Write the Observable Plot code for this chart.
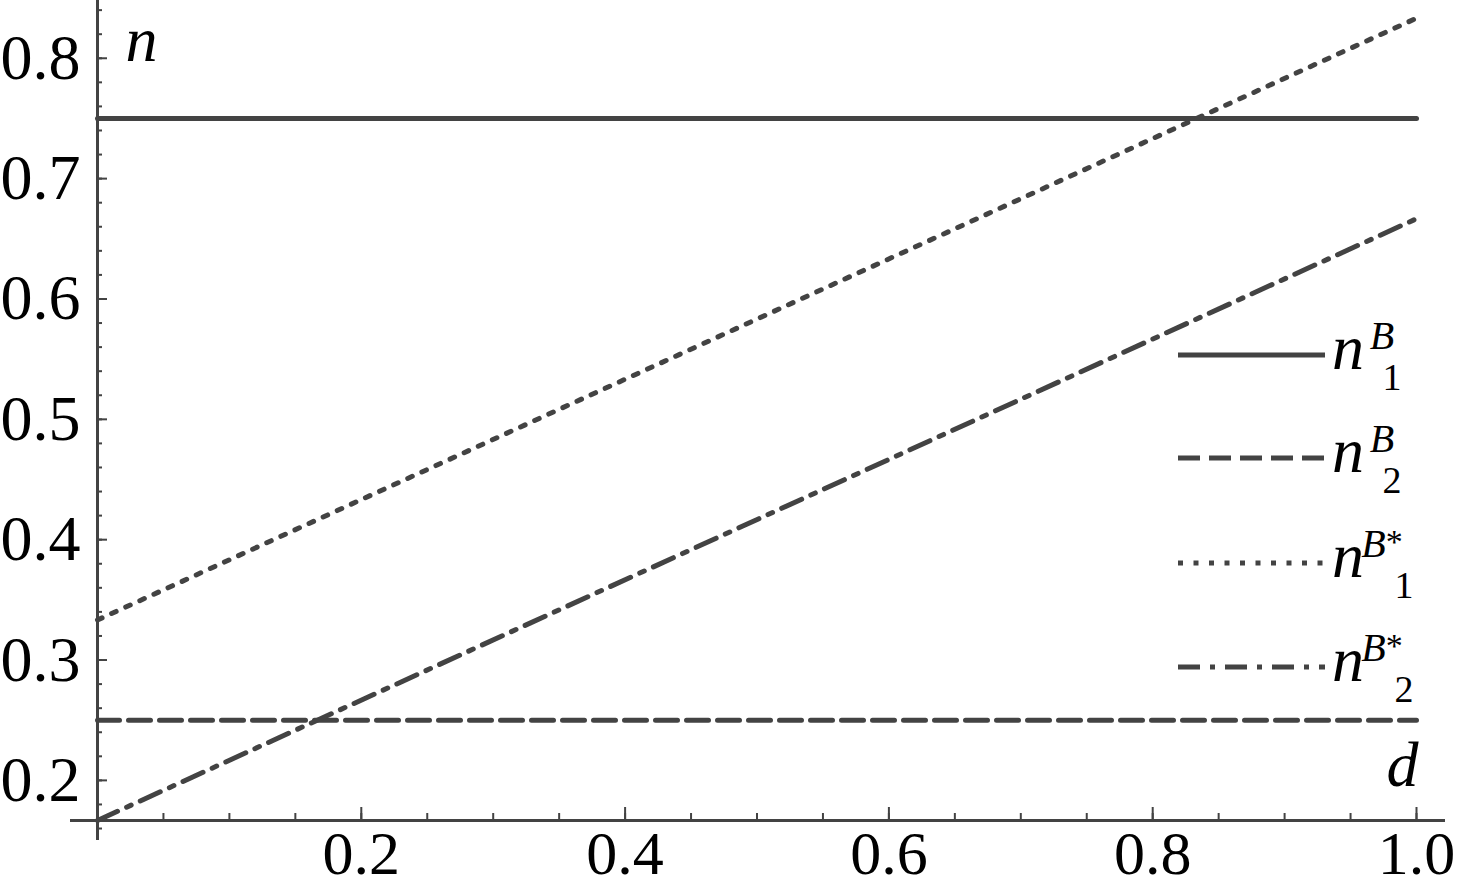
<!DOCTYPE html>
<html><head><meta charset="utf-8">
<script src="https://cdn.jsdelivr.net/npm/d3@7"></script>
<script src="https://cdn.jsdelivr.net/npm/@observablehq/plot@0.6"></script>
<style>html,body{margin:0;padding:0;background:#fff;} #chart{width:1464px;height:878px;overflow:hidden}</style>
</head><body><div id="chart"></div>
<script>
// Data
const d = [0, 1];
const n1B = [0.75, 0.75];
const n2B = [0.25, 0.25];
const n1Bstar = [0.3333, 0.8333];
const n2Bstar = [0.1667, 0.6667];
const xTickLabels = [0.2, 0.4, 0.6, 0.8, 1.0];
const yTickLabels = [0.2, 0.3, 0.4, 0.5, 0.6, 0.7, 0.8];
const xMinor = d3.range(1, 21).map(i => i / 20);
const yMinor = d3.range(8, 43).map(i => i / 50);
const seriesNames = ["n1B", "n2B", "n1B*", "n2B*"];
const seriesSub = ["1", "2", "1", "2"];
const seriesStar = [false, false, true, true];
const dashes = [null, "22,9", "5,10.5", "22,10,5,10"];

const FONT = "Liberation Serif, Times New Roman, DejaVu Serif, serif";
const yMin = 1 / 6, yMax = 0.848;
const ink = "#434343";
const toRows = vals => d.map((x, i) => ({d: x, n: vals[i]}));
const series = [n1B, n2B, n1Bstar, n2Bstar];

const lineMarks = series.map((vals, k) =>
  Plot.line(toRows(vals), {x: "d", y: "n", stroke: ink, strokeWidth: 5, strokeDasharray: dashes[k]})
);

const chart = Plot.plot({
  width: 1464, height: 878,
  marginLeft: 97, marginRight: 48, marginTop: 0, marginBottom: 58,
  x: {domain: [0, 1], label: null},
  y: {domain: [yMin, yMax], label: null},
  style: {fontFamily: FONT, fontSize: "64px", background: "white", color: "black", overflow: "visible"},
  marks: [
    Plot.axisX({ticks: xTickLabels, tickSize: 0, tickPadding: 9, tickFormat: d3.format(".1f"), fontSize: 62, fontFamily: FONT, label: null}),
    Plot.axisY({ticks: yTickLabels, tickSize: 0, tickPadding: 17, tickFormat: d3.format(".1f"), fontSize: 64, fontFamily: FONT, label: null}),
    // axis lines
    Plot.ruleY([yMin], {stroke: ink, strokeWidth: 3, insetLeft: -27, insetRight: -29}),
    Plot.ruleX([0], {stroke: ink, strokeWidth: 3, insetBottom: -20}),
    // y ticks (inside, to the right)
    Plot.ruleY(yMinor, {x1: () => 0, x2: () => 0, insetRight: -5, stroke: ink, strokeWidth: 2}),
    Plot.ruleY(yTickLabels, {x1: () => 0, x2: () => 0, insetRight: -10, stroke: ink, strokeWidth: 2}),
    // x ticks (inside, upward)
    Plot.ruleX(xMinor, {y1: () => yMin, y2: () => yMin, insetTop: -7, stroke: ink, strokeWidth: 2}),
    Plot.ruleX(xTickLabels, {y1: () => yMin, y2: () => yMin, insetTop: -13, stroke: ink, strokeWidth: 2}),
    ...lineMarks,
    Plot.text(["n"], {frameAnchor: "top-left", dx: 28, dy: 15, lineAnchor: "top", textAnchor: "start", fontStyle: "italic", fontSize: 64, fontFamily: FONT}),
    Plot.text(["d"], {frameAnchor: "bottom-right", dx: 2, dy: -80, lineAnchor: "top", textAnchor: "end", fontStyle: "italic", fontSize: 64, fontFamily: FONT})
  ]
});

// Legend
const svg = d3.select(chart.tagName.toLowerCase() === "svg" ? chart : chart.querySelector("svg"));
const lg = svg.append("g").attr("font-family", FONT).attr("fill", "black");
const legendY = [355, 458, 563, 667];
seriesNames.forEach((name, k) => {
  const y = legendY[k];
  lg.append("line").attr("x1", 1178).attr("x2", 1325).attr("y1", y).attr("y2", y)
    .attr("stroke", ink).attr("stroke-width", 5).attr("stroke-dasharray", dashes[k]);
  lg.append("text").attr("x", 1348).attr("y", y + 14).attr("font-size", 64).attr("font-style", "italic").text("n");
  const sup = lg.append("text").attr("x", 1382).attr("y", y - 6).attr("font-size", 40).attr("font-style", "italic");
  sup.append("tspan").text("B");
  if (seriesStar[k]) sup.append("tspan").attr("font-style", "normal").attr("font-size", 34).attr("dy", -4).text("*");
  lg.append("text").attr("x", seriesStar[k] ? 1404 : 1392).attr("y", y + 35).attr("font-size", 38).text(seriesSub[k]);
});

document.getElementById("chart").appendChild(chart);
</script>
</body></html>
